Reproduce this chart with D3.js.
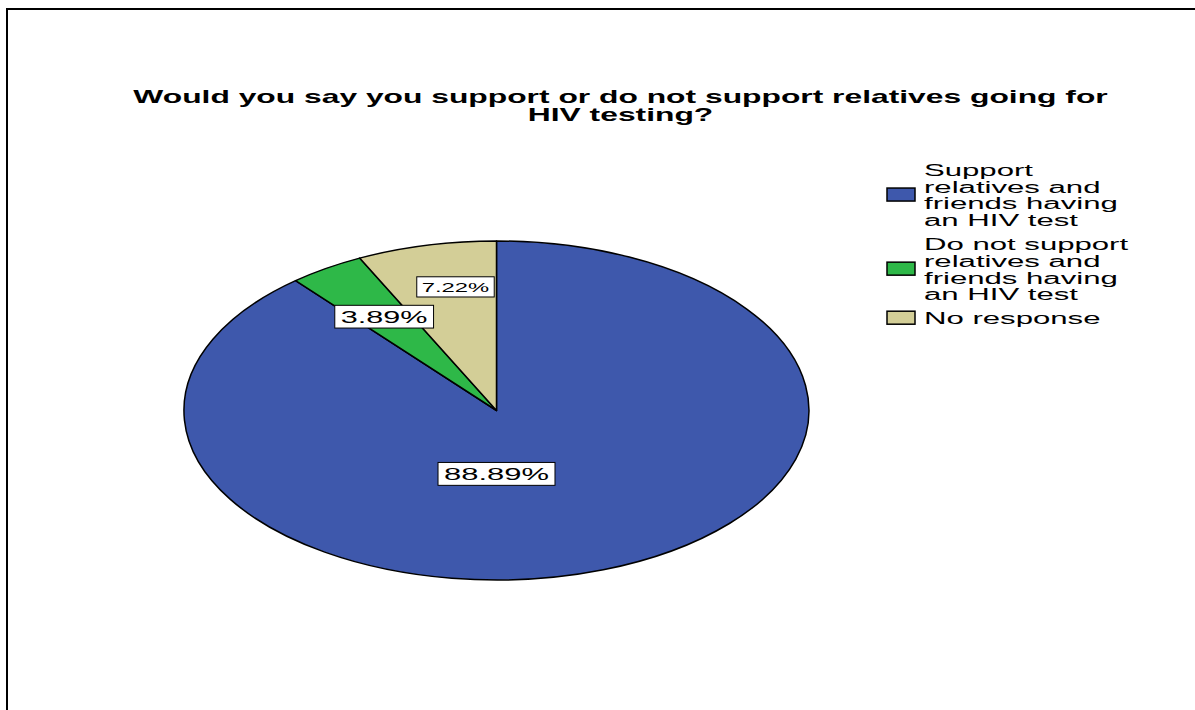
<!DOCTYPE html>
<html>
<head>
<meta charset="utf-8">
<script src="https://cdn.jsdelivr.net/npm/d3@7"></script>
<style>
  html, body { margin: 0; padding: 0; background: #fff; }
  svg { display: block; }
  text { font-family: "Liberation Sans", Arial, sans-serif; fill: #000; }
</style>
</head>
<body>
<svg id="chart" width="1195" height="710"></svg>
<script>
// ---- data ----
const categories = [
  "Support relatives and friends having an HIV test",
  "Do not support relatives and friends having an HIV test",
  "No response"
];
const legendLines = [
  ["Support", "relatives and", "friends having", "an HIV test"],
  ["Do not support", "relatives and", "friends having", "an HIV test"],
  ["No response"]
];
const percents = [88.89, 3.89, 7.22];
const labelTexts = ["88.89%", "3.89%", "7.22%"];
const colors = ["#3e58ac", "#2eb848", "#d3ce97"];
const titleLines = [
  "Would you say you support or do not support relatives going for",
  "HIV testing?"
];

// ---- layout ----
const W = 1195, H = 710;
const cx = 496.5, cy = 410.5;   // pie centre
const rx = 312.5, ry = 169.5;   // pie radii
const titleX = 620.5, titleWidth = 975;
// label placement in unit-pie polar terms (degrees clockwise from top, radius fraction)
const labelPlace = [
  { angle: 180, r: 0.374, size: 17.2, sx: 1.80, padX: 6, padY: 3 },
  { angle: 327, r: 0.66,  size: 17.0, sx: 1.80, padX: 6, padY: 3 },
  { angle: 349.8, r: 0.741, size: 13.6, sx: 1.75, padX: 5, padY: 3 }
];

const svg = d3.select("#chart");

// frame
svg.append("path")
  .attr("d", `M7,${H + 5} V9 H${W + 5}`)
  .attr("fill", "none")
  .attr("stroke", "#000")
  .attr("stroke-width", 2);

// title: both lines share the horizontal stretch that fits the first line
const title = svg.append("g");
const titleTexts = titleLines.map((line, i) =>
  title.append("text")
    .attr("text-anchor", "middle")
    .attr("font-size", 18)
    .attr("font-weight", "bold")
    .text(line)
);
const titleSx = titleWidth / titleTexts[0].node().getComputedTextLength();
titleTexts.forEach((t, i) =>
  t.attr("transform", `translate(${titleX},${103 + i * 18}) scale(${titleSx},1)`)
);

// pie
const pie = d3.pie().sort(null).value(d => d)(percents);
const arc = d3.arc().innerRadius(0).outerRadius(1);

const pieG = svg.append("g")
  .attr("transform", `translate(${cx},${cy}) scale(${rx},${ry})`);

pieG.selectAll("path.slice")
  .data(pie)
  .join("path")
  .attr("class", "slice")
  .attr("d", arc)
  .attr("fill", (d, i) => colors[i])
  .attr("stroke", "#000")
  .attr("stroke-width", 1.5)
  .attr("vector-effect", "non-scaling-stroke")
  .attr("stroke-linejoin", "round");

// value labels in white boxes
const labelG = svg.append("g");
pie.forEach((d, i) => {
  const p = labelPlace[i];
  const a = p.angle * Math.PI / 180;
  const x = cx + rx * p.r * Math.sin(a);
  const y = cy - ry * p.r * Math.cos(a);
  const g = labelG.append("g").attr("transform", `translate(${x},${y})`);
  const rect = g.append("rect")
    .attr("fill", "#fff")
    .attr("stroke", "#000")
    .attr("stroke-width", 1);
  const t = g.append("text")
    .attr("text-anchor", "middle")
    .attr("dominant-baseline", "central")
    .attr("font-size", p.size)
    .attr("transform", `scale(${p.sx},1)`)
    .text(labelTexts[i]);
  const w = t.node().getComputedTextLength() * p.sx;
  const h = p.size * 0.75;
  rect.attr("x", -w / 2 - p.padX)
    .attr("y", -h / 2 - p.padY - 2)
    .attr("width", w + 2 * p.padX)
    .attr("height", h + 2 * p.padY + 4);
});

// legend
const legend = svg.append("g");
const lx = 887, tx = 924, lineH = 16.7, itemGap = 7.3;
let base = 176;
legendLines.forEach((lines, i) => {
  const g = legend.append("g");
  lines.forEach((ln, j) => {
    g.append("text")
      .attr("transform", `translate(${tx},${base + j * lineH}) scale(1.8,1)`)
      .attr("font-size", 17.3)
      .text(ln);
  });
  const mid = base + (lines.length - 1) * lineH / 2 - 6.5;
  g.append("rect")
    .attr("x", lx)
    .attr("y", mid - 6.5)
    .attr("width", 28)
    .attr("height", 13)
    .attr("fill", colors[i])
    .attr("stroke", "#000")
    .attr("stroke-width", 1.5);
  base += lines.length * lineH + itemGap;
});
</script>
</body>
</html>
